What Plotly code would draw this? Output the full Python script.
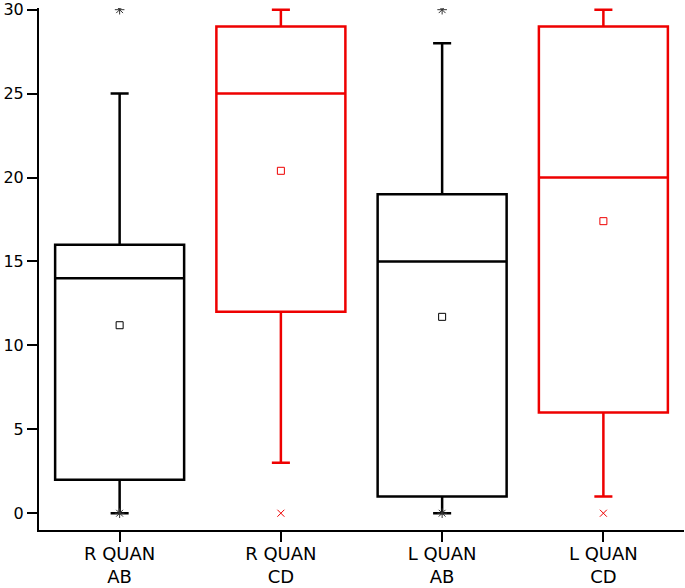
import plotly.graph_objects as go

categories = ["R QUAN<br>AB", "R QUAN<br>CD", "L QUAN<br>AB", "L QUAN<br>CD"]
colors = ["#000000", "#ee0000", "#000000", "#ee0000"]
lower = [0, 3, 0, 1]
q1 = [2, 12, 1, 6]
median = [14, 25, 15, 20]
q3 = [16, 29, 19, 29]
upper = [25, 30, 28, 30]
means = [11.2, 20.4, 11.7, 17.4]
outlier_x = [categories[0], categories[0], categories[2], categories[2]]
outlier_y = [30, 0, 30, 0]
red_outlier_x = [categories[1], categories[3]]
red_outlier_y = [0, 0]

fig = go.Figure()
for i, c in enumerate(categories):
    fig.add_trace(go.Box(
        x=[c], q1=[q1[i]], median=[median[i]], q3=[q3[i]],
        lowerfence=[lower[i]], upperfence=[upper[i]],
        width=0.8, whiskerwidth=0.14,
        line=dict(color=colors[i], width=2.5),
        fillcolor="rgba(0,0,0,0)",
        boxpoints=False, showlegend=False, hoverinfo="skip",
    ))
    fig.add_trace(go.Scatter(
        x=[c], y=[means[i]], mode="markers",
        marker=dict(symbol="square-open", size=7, color=colors[i],
                    line=dict(width=1, color=colors[i])),
        showlegend=False,
    ))

fig.add_trace(go.Scatter(
    x=outlier_x, y=outlier_y, mode="markers",
    marker=dict(symbol="asterisk-open", size=8, color="#333333",
                line=dict(width=1, color="#333333")),
    showlegend=False,
))
fig.add_trace(go.Scatter(
    x=red_outlier_x, y=red_outlier_y, mode="markers",
    marker=dict(symbol="x-thin-open", size=7, color="#ee0000",
                line=dict(width=1, color="#ee0000")),
    showlegend=False,
))

fig.update_layout(
    width=685, height=588,
    margin=dict(l=39, r=1, t=8, b=58),
    paper_bgcolor="white", plot_bgcolor="white",
    font=dict(family="DejaVu Sans, Verdana, sans-serif", size=17, color="black"),
    boxmode="overlay",
    showlegend=False,
)
fig.update_xaxes(
    type="category", categoryorder="array", categoryarray=categories,
    range=[-0.5, 3.5], showgrid=False, zeroline=False, automargin=False,
    showline=True, linecolor="black", linewidth=2,
    ticks="outside", ticklen=10, tickwidth=2, tickcolor="black",
    tickfont=dict(size=18), ticklabelstandoff=-4,
)
fig.update_yaxes(
    range=[-1.0, 30.1], tickvals=[0, 5, 10, 15, 20, 25, 30],
    showgrid=False, zeroline=False, automargin=False,
    showline=True, linecolor="black", linewidth=2,
    ticks="outside", ticklen=10, tickwidth=2, tickcolor="black",
    tickfont=dict(size=16), ticklabelstandoff=0,
)
fig.write_html(
    "out.html",
    config={"displayModeBar": False},
    post_script="document.body.style.margin='0';document.body.style.overflow='hidden';",
)
